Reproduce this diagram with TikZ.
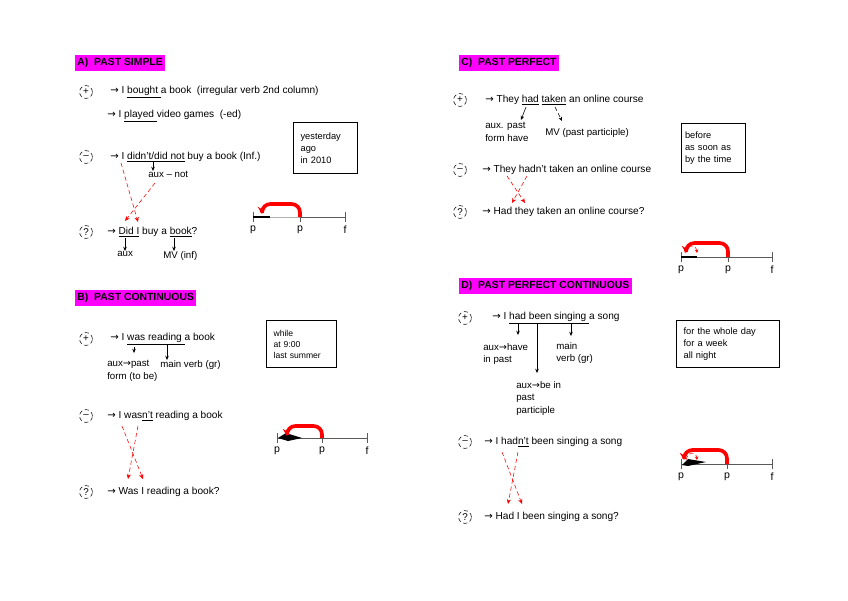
\documentclass[tikz,border=0pt]{standalone}
\usepackage{fontspec}
\setmainfont{Liberation Sans}
\newfontfamily\symfont{DejaVu Sans}
\newcommand{\rarr}{{\symfont →}}
\definecolor{hlmagenta}{RGB}{255,0,255}
\definecolor{tlred}{RGB}{255,0,0}
\definecolor{tlgray}{RGB}{90,90,90}
\usetikzlibrary{arrows.meta,positioning,calc}

\begin{document}
\begin{tikzpicture}[x=0.025cm, y=-0.025cm,
  hdr/.style={fill=hlmagenta, anchor=west, inner xsep=1.5pt, inner ysep=2.2pt, font=\fontsize{7.4}{8}\selectfont\bfseries},
  sgn/.style={draw, circle, thin, densely dashed, minimum size=0.32cm, inner sep=0pt, font=\fontsize{7}{7}\selectfont},
  txt/.style={anchor=west, inner sep=0pt, font=\fontsize{7.2}{8.5}\selectfont},
  lbl/.style={anchor=north west, inner sep=0pt, align=left, font=\fontsize{6.9}{9}\selectfont},
  wbox/.style={draw, thick, anchor=north west, inner xsep=5pt, align=left, font=\fontsize{6.6}{8.7}\selectfont},
  down/.style={-{Stealth[length=3pt,width=2.5pt]}, thin},
  xline/.style={tlred, densely dashed, -{Stealth[length=3.5pt,width=3pt]}},
  tl/.style={tlgray, thin},
  tlk/.style={tlgray, thin},
  tick/.style={anchor=north, inner sep=0pt, font=\fontsize{7.5}{8}\selectfont},
  bk/.style={tlred, line width=2.6pt, rounded corners=6pt, -{Stealth[length=5pt,width=6pt]}},
  sarc/.style={tlred, densely dashed, thin, -{Stealth[length=2.5pt,width=2.5pt]}}
]
  \useasboundingbox (0,0) rectangle (848,600);

  %% A) Past simple
  \node[hdr] (hdA) at (75,63) {A)\ \ PAST SIMPLE};
  \node[sgn] (a-pos) at (86,92) {+};
  \node[txt] (a-pos1) at (110,92) {\rarr\ I \underline{bought }a book\ \ (irregular verb 2nd column)};
  \node[txt] (a-pos2) at (107,116) {\rarr\ I \underline{played }video games\ \ (-ed)};
  \node[wbox, text width=1.25cm, minimum height=1.275cm] (a-box) at (293,122) {yesterday\\ago\\in 2010};
  \node[sgn] (a-neg) at (86,157) {--};
  \node[txt] (a-neg1) at (110,157) {\rarr\ I \underline{didn't/did not} buy a book (Inf.)};
  \node[lbl] (a-auxnot) at (148,171) {aux -- not};
  \coordinate (a-didnt) at (153,162);
  \draw[down] (a-didnt) -- (a-didnt |- a-auxnot.north);
  \node[sgn] (a-que) at (86,232) {?};
  \node[txt] (a-que1) at (107,232) {\rarr\ \underline{Did I} buy a \underline{book}?};
  \node[lbl] (a-aux) at (117,251) {aux};
  \node[lbl] (a-mv) at (163,251) {MV (inf)};
  \coordinate (a-did) at (125,238);
  \coordinate (a-book) at (174,238);
  \draw[down] (a-did) -- (a-did |- a-aux.north);
  \draw[down] (a-book) -- (a-book |- a-mv.north);
  %% crossing
  \coordinate (a-x1) at (121,163);
  \coordinate (a-x1e) at (138,222);
  \coordinate (a-x2) at (155,183);
  \coordinate (a-x2e) at (125,221);
  \draw[xline] (a-x1) -- (a-x1e);
  \draw[xline] (a-x2) -- (a-x2e);
  %% timeline
  \coordinate (a-o) at (253,217);
  \coordinate (a-p) at (300,217);
  \coordinate (a-f) at (345,217);
  \draw[tl, gray!60] (a-o) -- (a-p);
  \draw[tl] (a-p) -- (a-f);
  \foreach \c in {a-o,a-p,a-f} \draw[tlk] ($(\c)+(0,-5)$) -- ($(\c)+(0,5)$);
  \draw[line width=2pt] (a-o) -- ++(17,0);
  \draw[bk] (a-p) -- ++(0,-13) -| ($(a-o)+(9,-3)$);
  \node[tick] (a-lo) at ($(a-o)+(0,9)$) {p};
  \node[tick] (a-lp) at ($(a-p)+(0,9)$) {p};
  \node[tick] (a-lf) at ($(a-f)+(0,9)$) {f};

  %% B) Past continuous
  \node[hdr] (hdB) at (75,298) {B)\ \ PAST CONTINUOUS};
  \node[sgn] (b-pos) at (86,339) {+};
  \node[txt] (b-pos1) at (110,339) {\rarr\ I \underline{was reading }a book};
  \node[lbl] (b-aux) at (107,360) {aux\rarr past\\form (to be)};
  \node[lbl] (b-mv) at (160,360) {main verb (gr)};
  \coordinate (b-was) at (134,347);
  \coordinate (b-read) at (167,345);
  \draw[down] (b-was) -- ++(0,6);
  \draw[down] (b-read) -- (b-read |- b-mv.north);
  \node[wbox, font=\fontsize{6.1}{7.8}\selectfont, text width=1.4cm, minimum height=1.175cm] (b-box) at (266,320) {while\\at 9:00\\last summer};
  \node[sgn] (b-neg) at (86,416) {--};
  \node[txt] (b-neg1) at (107,416) {\rarr\ I was\underline{n't} reading a book};
  \node[sgn] (b-que) at (86,492) {?};
  \node[txt] (b-que1) at (107,492) {\rarr\ Was I reading a book?};
  \coordinate (b-x1) at (122,426);
  \coordinate (b-x1e) at (143,479);
  \coordinate (b-x2) at (138,426);
  \coordinate (b-x2e) at (128,479);
  \draw[xline] (b-x1) -- (b-x1e);
  \draw[xline] (b-x2) -- (b-x2e);
  \coordinate (b-o) at (277,438);
  \coordinate (b-p) at (322,438);
  \coordinate (b-f) at (367,438);
  \draw[tl] (b-o) -- (b-f);
  \foreach \c in {b-o,b-p,b-f} \draw[tlk] ($(\c)+(0,-5)$) -- ($(\c)+(0,5)$);
  \fill ($(b-o)+(1,0)$) -- ++(8,-5) -- ++(16,5) -- ++(-14,3) -- cycle;
  \draw[bk] (b-p) -- ++(0,-12) -| ($(b-o)+(10,-2)$);
  \node[tick] (b-lo) at ($(b-o)+(0,9)$) {p};
  \node[tick] (b-lp) at ($(b-p)+(0,9)$) {p};
  \node[tick] (b-lf) at ($(b-f)+(0,9)$) {f};

  %% C) Past perfect
  \node[hdr] (hdC) at (459,63) {C)\ \ PAST PERFECT};
  \node[sgn] (c-pos) at (460,100) {+};
  \node[txt] (c-pos1) at (485,100) {\rarr\ They \underline{had} \underline{taken} an online course};
  \node[lbl] (c-aux) at (485,122) {aux. past\\form have};
  \node[lbl] (c-mv) at (545,128) {MV (past participle)};
  \coordinate (c-had) at (526,107);
  \coordinate (c-had-e) at (521,120);
  \coordinate (c-taken) at (555,107);
  \coordinate (c-taken-e) at (562,121);
  \draw[down] (c-had) -- (c-had-e);
  \draw[down, densely dashed] (c-taken) -- (c-taken-e);
  \node[wbox, text width=1.42cm, minimum height=1.225cm, inner xsep=2.5pt] (c-box) at (681,123) {before\\as soon as\\by the time};
  \node[sgn] (c-neg) at (460,170) {--};
  \node[txt] (c-neg1) at (482,170) {\rarr\ They hadn't taken an online course};
  \node[sgn] (c-que) at (460,212) {?};
  \node[txt] (c-que1) at (482,212) {\rarr\ Had they taken an online course?};
  \coordinate (c-x1) at (507,176);
  \coordinate (c-x1e) at (525,203);
  \coordinate (c-x2) at (527,176);
  \coordinate (c-x2e) at (512,203);
  \draw[xline] (c-x1) -- (c-x1e);
  \draw[xline] (c-x2) -- (c-x2e);
  \coordinate (c-o) at (681,257);
  \coordinate (c-p) at (728,257);
  \coordinate (c-f) at (772,257);
  \draw[tl] (c-o) -- (c-f);
  \foreach \c in {c-o,c-p,c-f} \draw[tlk] ($(\c)+(0,-5)$) -- ($(\c)+(0,5)$);
  \draw[line width=2pt] (c-o) -- ++(16,0);
  \draw[bk] (c-p) -- ++(0,-14) -| ($(c-o)+(5,-4)$);
  \coordinate (c-s1) at (685,253);
  \coordinate (c-s2) at (697,253);
  \draw[sarc] (c-s1) .. controls (687,244) and (696,244) .. (c-s2);
  \node[tick] (c-lo) at ($(c-o)+(0,9)$) {p};
  \node[tick] (c-lp) at ($(c-p)+(0,9)$) {p};
  \node[tick] (c-lf) at ($(c-f)+(0,9)$) {f};

  %% D) Past perfect continuous
  \node[hdr] (hdD) at (459,286) {D)\ \ PAST PERFECT CONTINUOUS};
  \node[sgn] (d-pos) at (465,318) {+};
  \node[txt] (d-pos1) at (492,318) {\rarr\ I \underline{had been singing }a song};
  \node[lbl] (d-aux1) at (483,343) {aux\rarr have\\in past};
  \node[lbl] (d-main) at (556,342) {main\\verb (gr)};
  \node[lbl] (d-aux2) at (516,381) {aux\rarr be in\\past\\participle};
  \coordinate (d-had) at (518,324);
  \coordinate (d-been) at (537,324);
  \coordinate (d-sing) at (571,324);
  \draw[down] (d-had) -- ++(0,11);
  \draw[down] (d-been) -- ++(0,49);
  \draw[down] (d-sing) -- ++(0,12);
  \node[wbox, text width=2.22cm, minimum height=1.175cm] (d-box) at (676,320) {for the whole day\\for a week\\all night};
  \node[sgn] (d-neg) at (465,442) {--};
  \node[txt] (d-neg1) at (484,442) {\rarr\ I had\underline{n't} been singing a song};
  \node[sgn] (d-que) at (465,517) {?};
  \node[txt] (d-que1) at (484,517) {\rarr\ Had I been singing a song?};
  \coordinate (d-x1) at (502,452);
  \coordinate (d-x1e) at (522,504);
  \coordinate (d-x2) at (518,452);
  \coordinate (d-x2e) at (508,504);
  \draw[xline] (d-x1) -- (d-x1e);
  \draw[xline] (d-x2) -- (d-x2e);
  \coordinate (d-o) at (681,464);
  \coordinate (d-p) at (727,464);
  \coordinate (d-f) at (772,464);
  \draw[tl] (d-o) -- (d-f);
  \foreach \c in {d-o,d-p,d-f} \draw[tlk] ($(\c)+(0,-5)$) -- ($(\c)+(0,5)$);
  \fill ($(d-o)+(1,1)$) -- ++(6,-6) -- ++(18,3) -- ++(-18,4) -- cycle;
  \draw[bk] (d-p) -- ++(0,-14) -| ($(d-o)+(3,-4)$);
  \coordinate (d-s1) at (686,460);
  \coordinate (d-s2) at (697,460);
  \draw[sarc] (d-s1) .. controls (688,451) and (696,451) .. (d-s2);
  \node[tick] (d-lo) at ($(d-o)+(0,9)$) {p};
  \node[tick] (d-lp) at ($(d-p)+(0,9)$) {p};
  \node[tick] (d-lf) at ($(d-f)+(0,9)$) {f};
\end{tikzpicture}
\end{document}
